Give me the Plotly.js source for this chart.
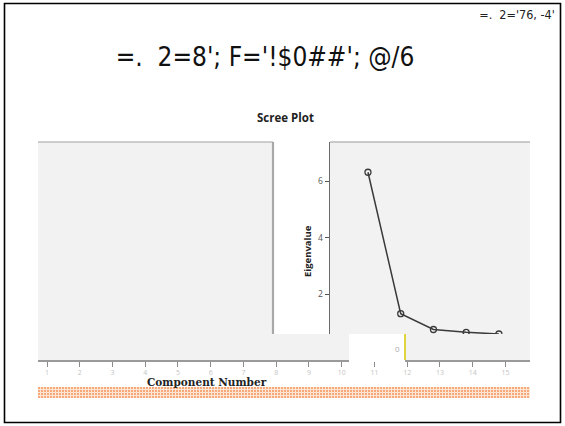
<!DOCTYPE html>
<html><head><meta charset="utf-8">
<script src="https://cdn.plot.ly/plotly-3.0.1.min.js"></script>
<style>html,body{margin:0;padding:0;background:#fff}#chart{width:565px;height:426px}
.annotation[data-index="0"] text, .annotation[data-index="1"] text{font-stretch:condensed !important;}
</style>
</head><body><div id="chart"></div>
<script>
// Data
const components = [1, 2, 3, 4, 5];
const eigenvalues = [6.32, 1.32, 0.76, 0.66, 0.6];
const axisTicks = [1,2,3,4,5,6,7,8,9,10,11,12,13,14,15];
const yTicks = [2, 4, 6];
const slideTitle = "=.\u00a0\u00a02=8'; F='!$0##'; @/6";
const cornerText = "=.\u00a0\u00a02='76, -4'";
const chartTitle = "Scree Plot";
const xTitle = "Component Number";
const yTitle = "Eigenvalue";

const W = 565, H = 426;
const px = x => x / W, py = y => 1 - y / H;

function rect(x0,y0,x1,y1,fill,layer){return {type:'rect',xref:'paper',yref:'paper',x0:px(x0),x1:px(x1),y0:py(y1),y1:py(y0),fillcolor:fill,line:{width:0},layer:layer||'below'};}
function line(x0,y0,x1,y1,color,w){return {type:'line',xref:'paper',yref:'paper',x0:px(x0),x1:px(x1),y0:py(y0),y1:py(y1),line:{color:color,width:w}};}

const dotSvg = "<svg xmlns='http://www.w3.org/2000/svg' width='492' height='11'><defs><pattern id='p' width='3' height='3' patternUnits='userSpaceOnUse'><rect width='3' height='3' fill='#fde6d6'/><rect x='0' y='0' width='2' height='2' fill='#f6a878'/></pattern></defs><rect width='492' height='11' fill='url(#p)'/></svg>";
const dotUri = 'data:image/svg+xml;charset=utf-8,' + encodeURIComponent(dotSvg);

const traces = [
 {x: [], y: [], xaxis:'x', yaxis:'y', type:'scatter', mode:'markers', hoverinfo:'skip'},
 {
  x: components, y: eigenvalues, xaxis:'x2', yaxis:'y2', type:'scatter', mode:'lines+markers',
  line:{color:'#3a3a3a', width:1.5},
  marker:{symbol:'circle-open', size:6, color:'#3a3a3a', line:{width:1.3}},
  cliponaxis:true, hoverinfo:'skip'
 }];

const layout = {
  width: W, height: H,
  margin:{l:0,r:0,t:0,b:0},
  paper_bgcolor:'#ffffff', plot_bgcolor:'rgba(0,0,0,0)',
  showlegend:false,
  font:{family:'"Open Sans", sans-serif', color:'#333'},
  xaxis:{domain:[px(38), px(530)], anchor:'y', range:[0.725, 15.75],
    tickvals: axisTicks, ticktext: axisTicks.map(String), ticks:'outside', ticklen:5, tickcolor:'#8a8a8a', tickwidth:1,
    tickfont:{size:7, color:'#c4c4c4'}, ticklabelstandoff:0, showline:true, linecolor:'#9a9a9a', linewidth:2, showgrid:false, zeroline:false,
    fixedrange:true},
  yaxis:{domain:[py(360), py(334)], range:[0,1], visible:false, fixedrange:true},
  xaxis2:{domain:[px(330), px(530)], anchor:'y2', range:[-0.16, 5.95], visible:false, fixedrange:true},
  yaxis2:{domain:[py(334), py(142)], anchor:'x2', range:[0.6, 7.39],
    tickvals: yTicks, ticks:'outside', ticklen:4, tickcolor:'#555', tickfont:{size:8.5, color:'#555'},
    showline:true, linecolor:'#6a6a6a', linewidth:1.5, showgrid:false, zeroline:false, fixedrange:true},
  images:[{source: dotUri, xref:'paper', yref:'paper', x:px(38), y:py(387), sizex:px(530)-px(38), sizey:11/H,
    xanchor:'left', yanchor:'top', sizing:'stretch', layer:'below'}],
  shapes:[
    {type:'rect',xref:'paper',yref:'paper',x0:px(4.5),x1:px(560.5),y0:py(422.5),y1:py(3.5),line:{color:'#000',width:1.6},fillcolor:'rgba(0,0,0,0)',layer:'above'},
    rect(38,142,273,334,'#f2f2f2'),
    line(38,142,273,142,'#a0a0a0',1),
    line(273,142,273,334,'#a8a8a8',2.2),
    rect(330,142,530,334,'#f2f2f2'),
    line(330,142,530,142,'#9a9a9a',1.2),
    rect(38,334,349,360,'#f2f2f2'),
    rect(405,334,530,360,'#f2f2f2'),
    rect(349,334,405,362,'#ffffff','above'),
    line(405,334,405,360,'#d8cc10',1.6)
  ],
  annotations:[
    {xref:'paper',yref:'paper',x:px(265),y:py(57),text:slideTitle,showarrow:false,xanchor:'center',yanchor:'middle',
     font:{family:'"DejaVu Sans", sans-serif',size:26,color:'#111'}},
    {xref:'paper',yref:'paper',x:px(561),y:py(14),text:cornerText,showarrow:false,xanchor:'right',yanchor:'middle',
     font:{family:'"DejaVu Sans", sans-serif',size:12.5,color:'#222'}},
    {xref:'paper',yref:'paper',x:px(285),y:py(117),text:'<b>'+chartTitle+'</b>',showarrow:false,xanchor:'center',yanchor:'middle',
     font:{family:'"Open Sans",sans-serif',size:11.5,color:'#222'}},
    {xref:'paper',yref:'paper',x:px(308),y:py(251),text:'<b>'+yTitle+'</b>',showarrow:false,textangle:-90,xanchor:'center',yanchor:'middle',
     font:{family:'"Open Sans",sans-serif',size:9.5,color:'#222'}},
    {xref:'paper',yref:'paper',x:px(207),y:py(382),text:'<b>'+xTitle+'</b>',showarrow:false,xanchor:'center',yanchor:'middle',
     font:{family:'"DejaVu Serif",serif',size:10.5,color:'#222'}},
    {xref:'paper',yref:'paper',x:px(397),y:py(348),text:'0',showarrow:false,xanchor:'center',yanchor:'middle',
     font:{family:'"Open Sans",sans-serif',size:8,color:'#aaa'}}
  ]
};

Plotly.newPlot('chart', traces, layout, {displayModeBar:false, staticPlot:true});
</script>
</body></html>
